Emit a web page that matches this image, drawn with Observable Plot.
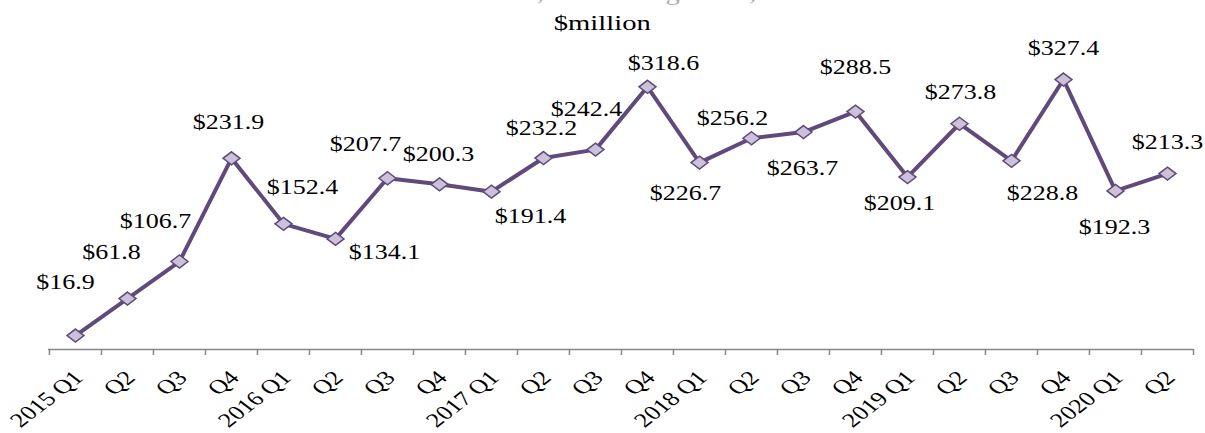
<!DOCTYPE html>
<html><head><meta charset="utf-8">
<script src="https://cdn.jsdelivr.net/npm/d3@7"></script>
<script src="https://cdn.jsdelivr.net/npm/@observablehq/plot@0.6"></script>
<style>
body{margin:0;background:#fff;font-family:"Liberation Serif","Times New Roman",serif;}
#hdr{position:relative;height:38px;width:1205px;overflow:hidden;}
#hdr div{position:absolute;left:0;width:1205px;text-align:center;font-size:22px;line-height:24px;}
#hdr span{display:inline-block;transform:scaleX(1.3);}
#t1{top:-19px;color:#aaa;}
#t2{top:11px;color:#000;}
#chart svg{display:block;}
</style></head><body>
<div id="hdr"><div id="t1"><span>December 31, 2014 - August 31, 2020</span></div><div id="t2"><span>$million</span></div></div>
<div id="chart"></div>
<script>
// ---- data ----
const quarters = ["2015Q1","2015Q2","2015Q3","2015Q4","2016Q1","2016Q2","2016Q3","2016Q4",
  "2017Q1","2017Q2","2017Q3","2017Q4","2018Q1","2018Q2","2018Q3","2018Q4",
  "2019Q1","2019Q2","2019Q3","2019Q4","2020Q1","2020Q2"];
const tickLabels = ["2015 Q1","Q2","Q3","Q4","2016 Q1","Q2","Q3","Q4",
  "2017 Q1","Q2","Q3","Q4","2018 Q1","Q2","Q3","Q4",
  "2019 Q1","Q2","Q3","Q4","2020 Q1","Q2"];
const values = [16.9,61.8,106.7,231.9,152.4,134.1,207.7,200.3,
  191.4,232.2,242.4,318.6,226.7,256.2,263.7,288.5,
  209.1,273.8,228.8,327.4,192.3,213.3];
const valueLabels = values.map(v => "$" + v.toFixed(1));

// ---- label placement (style) ----
const labelOffsets = [[-10,-53],[-16,-46],[-24,-40],[-3,-36],[19,-36],[49,14],[-22,-34],[-1,-30],
  [39,25],[-2,-29],[-9,-40],[16,-23],[-14,31],[-19,-20],[-1,37],[0,-44],
  [-8,27],[1,-31],[31,33],[0,-31],[-1,37],[0,-31]];

const data = quarters.map((q,i)=>({q, v: values[i], label: valueLabels[i]}));
const W = 1205, H = 395, ML = 48, MR = 12;
const step = (W - ML - MR) / quarters.length;
const FONT = '"Liberation Serif","Times New Roman",serif';
const diamond = {draw(ctx){ const h=6.5, w=8.5; ctx.moveTo(0,-h); ctx.lineTo(w,0); ctx.lineTo(0,h); ctx.lineTo(-w,0); ctx.closePath(); }};

const chart = Plot.plot({
  width: W, height: H,
  marginLeft: ML, marginRight: MR, marginTop: 22.4, marginBottom: 84,
  x: {type: "point", domain: quarters, padding: 0.5, label: null},
  y: {domain: [0, 350], axis: null},
  style: {fontFamily: FONT, fontSize: "20px", color: "#000", background: "#fff"},
  marks: [
    Plot.ruleY([0], {stroke: "#868686", strokeWidth: 1.5}),
    Plot.axisX({tickSize: 6, tickFormat: () => "", dx: -step/2, stroke: "#868686", strokeWidth: 1.5, label: null}),
    Plot.axisX([quarters[quarters.length-1]], {tickSize: 6, tickFormat: () => "", dx: step/2, stroke: "#868686", strokeWidth: 1.5, label: null}),
    Plot.axisX({tickSize: 0, tickRotate: -45, tickPadding: 25, dx: 3, fontSize: 20, fill: "#000", label: null,
      tickFormat: d => tickLabels[quarters.indexOf(d)]}),
    Plot.line(data, {x: "q", y: "v", stroke: "#604a7b", strokeWidth: 4}),
    Plot.dot(data, {x: "q", y: "v", symbol: diamond, r: 7, fill: "#ccc1da", stroke: "#604a7b", strokeWidth: 1.5}),
    ...data.map((d,i) => Plot.text([d], {x: "q", y: "v", text: "label", fontSize: 20, fill: "#000",
      dx: labelOffsets[i][0], dy: labelOffsets[i][1]}))
  ]
});
document.getElementById("chart").appendChild(chart);

// horizontal stretch of text glyphs around their anchor, as in the reference
function stretch(sel, s){
  chart.querySelectorAll(sel).forEach(t => {
    const tf = t.getAttribute("transform") || "";
    const m = tf.match(/^(translate\([^)]*\))(.*)$/);
    if (m) t.setAttribute("transform", m[1] + ` scale(${s},1)` + m[2]);
    else {
      const x = +t.getAttribute("x") || 0, y = +t.getAttribute("y") || 0;
      t.setAttribute("x", 0); t.setAttribute("y", 0);
      t.setAttribute("transform", tf + ` translate(${x},${y}) scale(${s},1)`);
    }
  });
}
stretch('g[aria-label="text"] text', 1.3);
stretch('g[aria-label="x-axis tick label"] text', 1.3);
</script>
</body></html>
